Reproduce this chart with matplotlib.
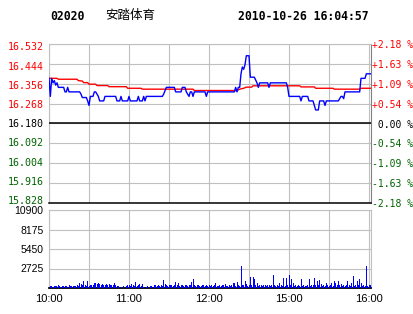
import numpy as np
import matplotlib
matplotlib.use('Agg')
import matplotlib.pyplot as plt
import matplotlib.transforms as mtransforms

# price panel data
prev_close = 16.180
price_ticks = [15.828, 15.916, 16.004, 16.092, 16.180, 16.268, 16.356, 16.444, 16.532]
pct_labels = ['-2.18 %', '-1.63 %', '-1.09 %', '-0.54 %', ' 0.00 %', '+0.54 %', '+1.09 %', '+1.63 %', '+2.18 %']

# minutes since 10:00 (trading minutes, lunch break removed)
price_min = [0, 1, 2, 3, 4, 5, 6, 7, 11, 12, 13, 14, 15, 23, 24, 25, 28, 29, 30, 31, 33, 34, 35, 37, 38, 41, 42,
             50, 51, 53, 54, 55, 59, 60, 61, 66, 67, 68, 70, 71, 72, 73, 74, 85, 86, 88, 94, 95, 99, 100, 102,
             103, 105, 106, 107, 108, 109, 117, 118, 119, 139, 140, 141, 142, 143, 144, 145, 146, 147, 148, 150,
             151, 154, 156, 157, 158, 164, 165, 166, 178, 179, 180, 188, 189, 190, 194, 195, 198, 199, 200, 202,
             203, 206, 207, 208, 217, 219, 220, 221, 222, 233, 234, 237, 238, 242]
price = [16.38, 16.30, 16.38, 16.36, 16.37, 16.35, 16.36, 16.34, 16.34, 16.32, 16.32, 16.34, 16.32, 16.32, 16.31,
         16.295, 16.295, 16.28, 16.26, 16.30, 16.30, 16.32, 16.32, 16.30, 16.28, 16.28, 16.30,
         16.30, 16.28, 16.28, 16.30, 16.28, 16.28, 16.30, 16.28, 16.28, 16.30, 16.28, 16.28, 16.30, 16.28, 16.30,
         16.30, 16.30, 16.31, 16.34, 16.34, 16.32, 16.32, 16.34, 16.34,
         16.32, 16.30, 16.32, 16.32, 16.30, 16.32, 16.32, 16.30, 16.32, 16.32, 16.34, 16.32, 16.34, 16.34, 16.40,
         16.43, 16.42, 16.44, 16.48, 16.48,
         16.385, 16.385, 16.36, 16.34, 16.36, 16.36, 16.34, 16.36, 16.36, 16.34, 16.30, 16.30, 16.28, 16.30,
         16.30, 16.28, 16.28, 16.26, 16.24, 16.24,
         16.28, 16.28, 16.26, 16.28, 16.28, 16.30, 16.30, 16.29, 16.32, 16.32, 16.38, 16.38, 16.40, 16.40]

avg_min = [0, 6, 7, 21, 22, 25, 26, 29, 30, 35, 36, 44, 45, 58, 59, 69, 70, 108, 109, 141, 143, 146, 148, 152,
           153, 188, 189, 199, 200, 213, 214, 233, 234, 242]
avg_price = [16.380, 16.380, 16.376, 16.376, 16.370, 16.368, 16.361, 16.361, 16.354, 16.354, 16.348, 16.348,
             16.343, 16.343, 16.336, 16.336, 16.332, 16.332, 16.326, 16.326, 16.332, 16.336, 16.341, 16.341,
             16.347, 16.347, 16.342, 16.342, 16.336, 16.336, 16.332, 16.332, 16.336, 16.336]

# volume per minute
volume = [10900, 250, 300, 200, 330, 250, 300, 420, 250, 200, 300, 330, 250, 300, 200, 420, 300, 250, 330, 300,
          250, 420, 300, 750, 600, 350, 980, 400, 300, 980, 300, 450, 400, 350, 650, 650, 600, 650, 500, 350,
          600, 450, 350, 500, 400, 600, 350, 450, 400, 700, 350, 300, 250, 0, 200, 0, 250, 0, 300, 450,
          400, 300, 500, 350, 300, 840, 300, 450, 600, 300, 550, 200, 0, 150, 300, 0, 250, 300, 200, 350,
          400, 300, 450, 300, 350, 250, 1120, 600, 350, 300, 450, 400, 350, 300, 400, 840, 400, 650, 300, 350,
          400, 300, 450, 350, 300, 400, 350, 800, 1260, 350, 300, 400, 350, 250, 300, 350, 400, 300, 350, 250,
          400, 300, 350, 300, 400, 650, 300, 250, 350, 300, 400, 350, 550, 300, 250, 350, 300, 400, 650, 750,
          300, 850, 350, 300, 3080, 400, 350, 980, 500, 300, 350, 1540, 400, 1540, 1260, 350, 650, 300, 400, 350,
          300, 450, 350, 300, 400, 350, 300, 450, 1820, 350, 300, 400, 300, 650, 350, 300, 1400, 300, 1400, 350,
          1820, 400, 1200, 750, 300, 350, 300, 400, 300, 1260, 300, 350, 250, 300, 350, 1260, 300, 400, 350, 1400,
          400, 1000, 350, 1120, 600, 300, 350, 300, 750, 350, 300, 400, 750, 300, 950, 750, 400, 1000, 350, 600,
          300, 350, 300, 400, 1000, 350, 300, 650, 1680, 300, 400, 950, 350, 1260, 650, 300, 350, 300, 3080, 300,
          450, 350]
vol_ticks = [2725, 5450, 8175, 10900]
time_ticks = [0, 60, 120, 180, 240]
time_labels = ['10:00', '11:00', '12:00', '15:00', '16:00']

W, H = 414, 314
fig = plt.figure(figsize=(W / 100, H / 100), dpi=100)
fig.patch.set_facecolor('white')

def box(l, t, r, b):
    return [l / W, 1 - b / H, (r - l) / W, (b - t) / H]

def nudge(labels, shifts):
    # shift tick labels vertically by a few pixels (positive = up)
    for lab, dy in zip(labels, shifts):
        lab.set_transform(lab.get_transform() +
                          mtransforms.ScaledTranslation(0, dy / 100, fig.dpi_scale_trans))

grid_c = '#c0c0c0'
mono = 'DejaVu Sans Mono'
sans = 'Liberation Sans'

def label_color(v):
    if v > prev_close + 1e-9:
        return '#ff0000'
    if v < prev_close - 1e-9:
        return '#006400'
    return '#000000'

price_shift = [3, 2, 1.5, 1, 0, 0, -1, -2, -2]

# ---- price panel
ax = fig.add_axes(box(49, 44, 371, 203))
ax.set_xlim(0, 241.5)
ax.set_ylim(price_ticks[0], price_ticks[-1])
ax.set_xticks(np.arange(0, 241, 30))
ax.set_yticks(price_ticks)
ax.grid(True, color=grid_c, lw=0.8)
ax.set_axisbelow(True)
ax.tick_params(length=0, pad=3.5)
ax.set_xticklabels([])
ax.set_yticklabels(['%.3f' % v for v in price_ticks], family=mono, fontsize=7.2)
for lab, v in zip(ax.get_yticklabels(), price_ticks):
    lab.set_color(label_color(v))
nudge(ax.get_yticklabels(), price_shift)
ax.axhline(prev_close, color='black', lw=1.1, zorder=3)
ax.plot(avg_min, avg_price, color='#ff0000', lw=1.0, zorder=4)
ax.plot(price_min, price, color='#0000ff', lw=1.0, zorder=5)
for s in ['left', 'top']:
    ax.spines[s].set_color(grid_c)
    ax.spines[s].set_linewidth(0.8)
ax.spines['right'].set_color('#808080')
ax.spines['right'].set_linewidth(0.8)
ax.spines['bottom'].set_color('black')
ax.spines['bottom'].set_linewidth(1.1)

ax2 = ax.twinx()
ax2.set_ylim(price_ticks[0], price_ticks[-1])
ax2.set_yticks(price_ticks)
ax2.set_yticklabels(pct_labels, family=mono, fontsize=7.0)
for lab, v in zip(ax2.get_yticklabels(), price_ticks):
    lab.set_color(label_color(v))
nudge(ax2.get_yticklabels(), price_shift)
ax2.tick_params(length=0, pad=0.5)
for s in ax2.spines.values():
    s.set_visible(False)

# ---- volume panel
vx = fig.add_axes(box(49, 210, 371, 288))
vx.bar(np.arange(len(volume)), volume, width=0.75, color='#0000ff', lw=0, zorder=3)
vx.set_xlim(0, 241.5)
vx.set_ylim(0, 10900)
vx.set_xticks(np.arange(0, 241, 30), minor=True)
vx.set_xticks(time_ticks)
vx.set_xticklabels(time_labels, family=sans, fontsize=8)
vx.set_yticks(vol_ticks)
vx.set_yticklabels([str(v) for v in vol_ticks], family=sans, fontsize=7.5)
nudge(vx.get_yticklabels(), [-1.5, -2, -2, -3])
vx.grid(True, which='both', color=grid_c, lw=0.8)
vx.set_axisbelow(True)
vx.tick_params(which='both', length=0)
vx.tick_params(axis='y', pad=4)
vx.tick_params(axis='x', pad=4)
for s in ['left', 'top', 'right']:
    vx.spines[s].set_color(grid_c)
    vx.spines[s].set_linewidth(0.8)
vx.spines['bottom'].set_color('black')
vx.spines['bottom'].set_linewidth(1.3)

# ---- header
fig.text(50 / W, 1 - 17 / H, '02020', family=mono, weight='bold', fontsize=8.3, va='center', ha='left')
fig.text(105 / W, 1 - 16 / H, '安踏体育', family=['Noto Sans CJK SC', 'DejaVu Sans'], fontsize=9,
         va='center', ha='left')
fig.text(238 / W, 1 - 17 / H, '2010-10-26 16:04:57', family=mono, weight='bold', fontsize=8.3,
         va='center', ha='left')

fig.savefig('out.png', dpi=100, facecolor='white')
